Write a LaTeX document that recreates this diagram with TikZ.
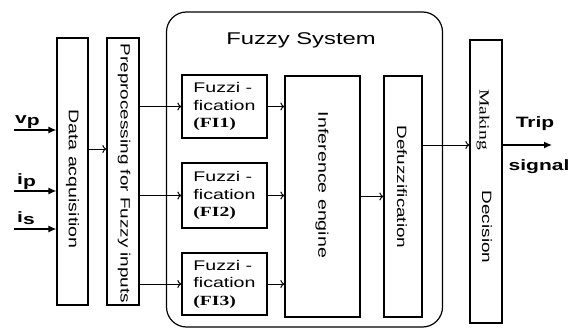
\documentclass[tikz,border=0pt]{standalone}
\usepackage{fontspec}
\setmainfont{Liberation Sans}[FakeStretch=1.4]
\newfontfamily\tagfont{Liberation Serif}[FakeStretch=1.4]
\usetikzlibrary{arrows.meta}

\begin{document}
\begin{tikzpicture}[x=1pt, y=-1pt, every node/.style={font=\fontsize{13.5}{16}\selectfont, align=center},
  block/.style={draw, line width=1.2pt, inner sep=0pt},
  vtext/.style={rotate=-90, inner sep=0pt},
  flow/.style={-{To[length=4pt,width=8pt]}, line width=1pt},
  sig/.style={-{Latex[length=8pt,width=7pt]}, line width=1.2pt}]
  \useasboundingbox (0,0) rectangle (576,329);
  \node[block, rounded corners=20pt, minimum width=276pt, minimum height=315pt] (fuzzy) at (304.5,169.5) {};
  \node[font=\fontsize{17}{20}\selectfont] (fuzzytitle) at (301,40) {Fuzzy System};
  \node[block, minimum width=31pt, minimum height=267pt] (dacq) at (72.5,171.5) {};
  \node[block, minimum width=32pt, minimum height=267pt] (prep) at (123,171.5) {};
  \node[block, minimum width=85pt, minimum height=63pt] (fi1) at (224.5,106.5) {};
  \node[block, minimum width=85pt, minimum height=65pt] (fi2) at (224.5,195.5) {};
  \node[block, minimum width=85pt, minimum height=62pt] (fi3) at (224.5,284) {};
  \node[block, minimum width=75pt, minimum height=241pt] (inf) at (322.5,196.5) {};
  \node[block, minimum width=38pt, minimum height=241pt] (defz) at (403,196.5) {};
  \node[block, minimum width=32pt, minimum height=283pt] (dec) at (486,181.5) {};
  \node[vtext, font=\fontsize{14}{16}\selectfont] (dacqtext) at (72.5,179) {Data acquisition};
  \node[vtext] (preptext) at (124,173.5) {Preprocessing for Fuzzy inputs};
  \node[vtext, font=\fontsize{14}{16}\selectfont] (inftext) at (322,185) {Inference engine};
  \node[vtext] (defztext) at (402,187) {Defuzzification};
  \node[vtext, font=\tagfont\fontsize{14}{16}\selectfont] (makingtext) at (483,119.5) {Making};
  \node[vtext] (decisiontext) at (487,227) {Decision};
  \node[align=left, inner sep=0pt, font=\fontsize{14}{17.5}\selectfont] (fi1text) at (fi1) {Fuzzi -\\fication\\{\tagfont\bfseries (FI1)}};
  \node[align=left, inner sep=0pt, font=\fontsize{14}{17.5}\selectfont] (fi2text) at (fi2) {Fuzzi -\\fication\\{\tagfont\bfseries (FI2)}};
  \node[align=left, inner sep=0pt, font=\fontsize{14}{17.5}\selectfont] (fi3text) at (fi3) {Fuzzi -\\fication\\{\tagfont\bfseries (FI3)}};
  \coordinate (vp) at (14,130);
  \coordinate (ip) at (14,191);
  \coordinate (is) at (14,229);
  \coordinate (row0) at (0,149);
  \coordinate (row1) at (0,145);
  \coordinate (trip) at (552,145);
  \draw[sig] (vp) -- (vp -| dacq.west);
  \draw[sig] (ip) -- (ip -| dacq.west);
  \draw[sig] (is) -- (is -| dacq.west);
  \node[anchor=base west, inner sep=0pt, font=\bfseries\fontsize{15}{16}\selectfont] (vplabel) at ([xshift=1pt, yshift=7pt]vp) {v\raisebox{-0.35ex}{p}};
  \node[anchor=base west, inner sep=0pt, font=\bfseries\fontsize{15}{16}\selectfont] (iplabel) at ([xshift=3pt, yshift=7pt]ip) {i\raisebox{-0.35ex}{p}};
  \node[anchor=base west, inner sep=0pt, font=\bfseries\fontsize{15}{16}\selectfont] (islabel) at ([xshift=3pt, yshift=7pt]is) {i\raisebox{-0.35ex}{s}};
  \draw[flow] (dacq.east |- row0) -- (prep.west |- row0);
  \draw[flow] (prep.east |- fi1) -- (fi1.west);
  \draw[flow] (prep.east |- fi2) -- (fi2.west);
  \draw[flow] (prep.east |- fi3) -- (fi3.west);
  \draw[flow] (fi1.east) -- (fi1.east -| inf.west);
  \draw[flow] (fi2.east) -- (fi2.east -| inf.west);
  \draw[flow] (fi3.east) -- (fi3.east -| inf.west);
  \draw[flow] (inf) -- (defz);
  \draw[flow] (defz.east |- row1) -- (dec.west |- row1);
  \draw[sig] (dec.east |- row1) -- (trip);
  \node[font=\bfseries\fontsize{15}{17}\selectfont] (triptext) at (535,124) {Trip};
  \node[font=\bfseries\fontsize{15}{17}\selectfont] (signaltext) at (539,167) {signal};
\end{tikzpicture}
\end{document}
